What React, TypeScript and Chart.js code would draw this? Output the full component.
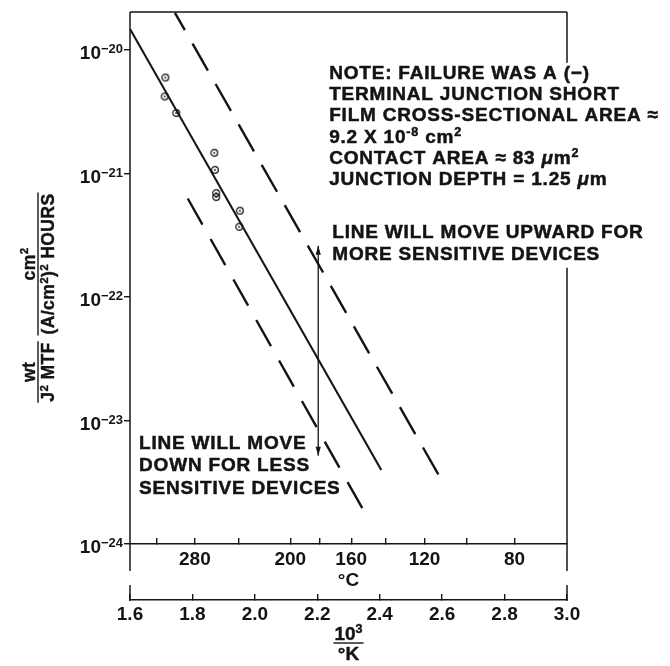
import React, { useEffect, useRef } from 'react';
import { Chart, registerables } from 'chart.js';

Chart.register(...registerables);

// ---------------- data ----------------
const inverseKelvinTicks = [1.6, 1.8, 2.0, 2.2, 2.4, 2.6, 2.8, 3.0];
const celsiusTicks = [320, 280, 240, 200, 180, 160, 140, 120, 100, 80];
const celsiusLabels = [280, 200, 160, 120, 80];
const decadeExponents = [-24, -23, -22, -21, -20];
const yMin = 1e-24;
const yMax = 2.03e-20;

// measured failures (1000/T, wt/J^2 MTF)
const failureInvK = [1.713, 1.711, 1.748, 1.87, 1.872, 1.876, 1.876, 1.952, 1.95];
const failureValue = [5.98e-21, 4.2e-21, 3.09e-21, 1.47e-21, 1.07e-21, 6.93e-22, 6.44e-22, 4.99e-22, 3.7e-22];

// fitted line and bounds
const fitInvK = [1.6, 2.405];
const fitValue = [1.48e-20, 3.96e-24];
const upperInvK = [1.744, 2.59];
const upperValue = [2.0e-20, 3.57e-24];
const lowerInvK = [1.785, 2.345];
const lowerValue = [6.27e-22, 1.93e-24];
const arrowInvK = [2.203, 2.203];
const arrowValue = [2.6e-22, 5.18e-24];

// annotation text
const noteLines = [
  'NOTE: FAILURE WAS A (\u2212)',
  'TERMINAL JUNCTION SHORT',
  'FILM CROSS-SECTIONAL AREA \u2248',
  '9.2 X 10^{-8} cm^{2}',
  'CONTACT AREA \u2248 83 ~{\u03bc}m^{2}',
  'JUNCTION DEPTH = 1.25 ~{\u03bc}m',
];
const upLines = ['LINE WILL MOVE UPWARD FOR', 'MORE SENSITIVE DEVICES'];
const downLines = ['LINE WILL MOVE', 'DOWN FOR LESS', 'SENSITIVE DEVICES'];
const yTitleLeft = { num: 'wt', den: 'J^{2} MTF' };
const yTitleRight = { num: 'cm^{2}', den: '(A/cm^{2})^{2} HOURS' };
const xTitle = { num: '10^{3}', den: '\u00b0K' };
const celsiusTitle = '\u00b0C';

// annotation anchors (data coordinates)
const noteAnchor = { x: 2.238, y: 6.65e-21 };
const upAnchor = { x: 2.248, y: 3.4e-22 };
const downAnchor = { x: 1.629, y: 6.68e-24 };
const rightBorderGap = [7.87e-21, 1.72e-22];

// ---------------- drawing helpers ----------------
const FONT = '"Liberation Sans", Arial, Helvetica, sans-serif';
const INK = '#141414';

type Part = { t: string; sup: boolean; it: boolean };

function parseRich(text: string): Part[] {
  const parts: Part[] = [];
  const re = /(\^|~)\{([^}]*)\}/g;
  let last = 0;
  let m: RegExpExecArray | null;
  while ((m = re.exec(text))) {
    if (m.index > last) parts.push({ t: text.slice(last, m.index), sup: false, it: false });
    parts.push({ t: m[2], sup: m[1] === '^', it: m[1] === '~' });
    last = re.lastIndex;
  }
  if (last < text.length) parts.push({ t: text.slice(last), sup: false, it: false });
  return parts;
}

function setFont(ctx: CanvasRenderingContext2D, size: number, italic = false) {
  ctx.font = `${italic ? 'italic ' : ''}bold ${size}px ${FONT}`;
}

function richWidth(ctx: CanvasRenderingContext2D, text: string, size: number) {
  let w = 0;
  for (const p of parseRich(text)) {
    setFont(ctx, p.sup ? size * 0.66 : size, p.it);
    w += ctx.measureText(p.t).width;
  }
  return w;
}

function drawRich(ctx: CanvasRenderingContext2D, text: string, x: number, baseline: number, size: number, heavy = 0) {
  let cx = x;
  for (const p of parseRich(text)) {
    const fs = p.sup ? size * 0.66 : size;
    setFont(ctx, fs, p.it);
    const yy = baseline - (p.sup ? size * 0.36 : 0);
    ctx.fillText(p.t, cx, yy);
    if (heavy > 0) {
      ctx.lineWidth = heavy;
      ctx.strokeText(p.t, cx, yy);
    }
    cx += ctx.measureText(p.t).width;
  }
  return cx - x;
}

function seg(ctx: CanvasRenderingContext2D, x1: number, y1: number, x2: number, y2: number) {
  ctx.beginPath();
  ctx.moveTo(x1, y1);
  ctx.lineTo(x2, y2);
  ctx.stroke();
}

const framePlugin = {
  id: 'frameAndText',
  afterDraw(chart: any) {
    const { ctx, chartArea: a, scales } = chart;
    const ys = scales.y;
    const xc = scales.xc;
    const xk = scales.x;
    ctx.save();
    ctx.strokeStyle = INK;
    ctx.fillStyle = INK;
    ctx.lineWidth = 1.5;

    // frame
    seg(ctx, a.left, a.top, a.right, a.top);
    seg(ctx, a.left, a.top, a.left, xc.top + 27);
    seg(ctx, a.left, xk.top - 15, a.left, xk.top + 0.75);
    const g0 = ys.getPixelForValue(rightBorderGap[0]);
    const g1 = ys.getPixelForValue(rightBorderGap[1]);
    seg(ctx, a.right, a.top, a.right, g0);
    seg(ctx, a.right, g1, a.right, xc.top + 27);
    seg(ctx, a.right, xk.top - 15, a.right, xk.top + 0.75);

    // y tick labels 10^n
    ctx.textAlign = 'left';
    ctx.textBaseline = 'alphabetic';
    for (const e of decadeExponents) {
      const py = ys.getPixelForValue(Math.pow(10, e));
      const expStr = '\u2212' + String(Math.abs(e));
      setFont(ctx, 13);
      const we = ctx.measureText(expStr).width;
      setFont(ctx, 19);
      const wb = ctx.measureText('10').width;
      const right = a.left - 7;
      const base = py + 9.5;
      ctx.fillText('10', right - we - wb, base);
      setFont(ctx, 13);
      ctx.fillText(expStr, right - we, base - 6.3);
    }

    // arrowheads
    const meta = chart.getDatasetMeta(4);
    if (meta && meta.data.length === 2) {
      const p0 = meta.data[0];
      const p1 = meta.data[1];
      ctx.beginPath();
      ctx.moveTo(p0.x, p0.y);
      ctx.lineTo(p0.x - 2.6, p0.y + 9);
      ctx.lineTo(p0.x + 2.6, p0.y + 9);
      ctx.closePath();
      ctx.fill();
      ctx.beginPath();
      ctx.moveTo(p1.x, p1.y);
      ctx.lineTo(p1.x - 2.6, p1.y - 9);
      ctx.lineTo(p1.x + 2.6, p1.y - 9);
      ctx.closePath();
      ctx.fill();
    }

    // annotation blocks
    (ctx as any).letterSpacing = '0.8px';
    const size = 19;
    const block = (lines: string[], anchor: { x: number; y: number }, spacing: number) => {
      const x0 = xk.getPixelForValue(anchor.x);
      const y0 = ys.getPixelForValue(anchor.y);
      lines.forEach((ln, i) => {
        drawRich(ctx, ln, x0, y0 + i * spacing + size * 0.358, size, 0.5);
      });
    };
    block(noteLines, noteAnchor, 21.3);
    block(upLines, upAnchor, 21.5);
    block(downLines, downAnchor, 22.4);

    // vertical y-axis title (two fractions)
    (ctx as any).letterSpacing = '0.4px';
    const tSize = 17.5;
    const fracV = (num: string, den: string, cx: number, cy: number) => {
      ctx.save();
      ctx.translate(cx, cy);
      ctx.rotate(-Math.PI / 2);
      const wn = richWidth(ctx, num, tSize);
      const wd = richWidth(ctx, den, tSize);
      const half = Math.max(wn, wd) / 2 + 1;
      drawRich(ctx, num, -wn / 2, -3.5, tSize, 0.4);
      ctx.lineWidth = 1.4;
      seg(ctx, -half, 0, half, 0);
      drawRich(ctx, den, -wd / 2, 3.5 + tSize * 0.72, tSize, 0.4);
      ctx.restore();
    };
    fracV(yTitleRight.num, yTitleRight.den, 38, 264);
    fracV(yTitleLeft.num, yTitleLeft.den, 38, 372);

    // x-axis title 10^3 / °K
    (ctx as any).letterSpacing = '0px';
    const mx = (a.left + a.right) / 2;
    const by = xk.top + 43;
    const wn = richWidth(ctx, xTitle.num, 19);
    const wd = richWidth(ctx, xTitle.den, 19);
    drawRich(ctx, xTitle.num, mx - wn / 2, by - 3, 19, 0.4);
    ctx.lineWidth = 1.4;
    seg(ctx, mx - Math.max(wn, wd) / 2 - 1, by, mx + Math.max(wn, wd) / 2 + 1, by);
    drawRich(ctx, xTitle.den, mx - wd / 2, by + 17, 19, 0.4);

    ctx.restore();
  },
};

function makeRing(): HTMLCanvasElement {
  const c = document.createElement('canvas');
  c.width = 10;
  c.height = 10;
  const g = c.getContext('2d')!;
  g.strokeStyle = INK;
  g.lineWidth = 1.2;
  g.beginPath();
  g.arc(5, 5, 3.4, 0, Math.PI * 2);
  g.stroke();
  g.fillStyle = INK;
  g.beginPath();
  g.arc(5, 5, 0.9, 0, Math.PI * 2);
  g.fill();
  return c;
}

const pts = (xs: number[], ys: number[]) => xs.map((x, i) => ({ x, y: ys[i] }));

export default function App() {
  const ref = useRef<HTMLCanvasElement>(null);

  useEffect(() => {
    if (!ref.current) return;
    const tickFont = { family: FONT, size: 19, weight: 'bold' as const };
    const ring = makeRing();
    const chart = new Chart(ref.current, {
      type: 'scatter',
      data: {
        datasets: [
          {
            label: 'failures',
            data: pts(failureInvK, failureValue),
            pointStyle: ring as any,
            pointRadius: 4,
            showLine: false,
          },
          {
            label: 'fit',
            data: pts(fitInvK, fitValue),
            showLine: true,
            borderColor: INK,
            borderWidth: 2.1,
            pointRadius: 0,
          },
          {
            label: 'upper',
            data: pts(upperInvK, upperValue),
            showLine: true,
            borderColor: INK,
            borderWidth: 2.4,
            borderDash: [31, 15.5],
            borderDashOffset: 11,
            pointRadius: 0,
          },
          {
            label: 'lower',
            data: pts(lowerInvK, lowerValue),
            showLine: true,
            borderColor: INK,
            borderWidth: 2.4,
            borderDash: [30, 16.5],
            pointRadius: 0,
          },
          {
            label: 'shift',
            data: pts(arrowInvK, arrowValue),
            showLine: true,
            borderColor: INK,
            borderWidth: 1.3,
            pointRadius: 0,
          },
        ] as any,
      },
      options: {
        responsive: false,
        animation: false,
        devicePixelRatio: 1,
        events: [],
        layout: { padding: { left: 124, right: 103, top: 12, bottom: 30 } },
        plugins: { legend: { display: false }, tooltip: { enabled: false } },
        scales: {
          y: {
            type: 'logarithmic',
            position: 'left',
            min: yMin,
            max: yMax,
            afterBuildTicks: (s: any) => {
              s.ticks = decadeExponents.map((e) => ({ value: Math.pow(10, e) }));
            },
            ticks: { display: false },
            grid: { display: true, drawOnChartArea: false, drawTicks: true, tickLength: 6, color: INK, lineWidth: 1.4 },
            border: { display: false },
          },
          xc: {
            type: 'linear',
            axis: 'x',
            position: 'bottom',
            weight: 0,
            min: 1.6,
            max: 3.0,
            afterBuildTicks: (s: any) => {
              s.ticks = celsiusTicks.map((c) => ({ value: 1000 / (c + 273.15) }));
            },
            ticks: {
              autoSkip: false,
              maxRotation: 0,
              minRotation: 0,
              padding: 10,
              color: INK,
              font: tickFont,
              callback: (_v: any, i: number) => {
                const c = celsiusTicks[i];
                return celsiusLabels.includes(c) ? String(c) : '';
              },
            },
            grid: { drawOnChartArea: false, drawTicks: true, tickLength: -6, color: INK, lineWidth: 1.4 },
            border: { display: true, color: INK, width: 1.5 },
            title: { display: true, text: celsiusTitle, color: INK, font: tickFont, padding: { top: -11, bottom: 7.5 } },
          },
          x: {
            type: 'linear',
            position: 'bottom',
            weight: 1,
            min: 1.6,
            max: 3.0,
            afterBuildTicks: (s: any) => {
              s.ticks = inverseKelvinTicks.map((v) => ({ value: v }));
            },
            ticks: {
              autoSkip: false,
              maxRotation: 0,
              minRotation: 0,
              padding: 9.6,
              color: INK,
              font: tickFont,
              callback: (v: any) => Number(v).toFixed(1),
            },
            grid: { drawOnChartArea: false, drawTicks: true, tickLength: -6, color: INK, lineWidth: 1.4 },
            border: { display: true, color: INK, width: 1.5 },
          },
        } as any,
      },
      plugins: [framePlugin],
    });
    return () => chart.destroy();
  }, []);

  return (
    <div style={{ position: 'absolute', left: 0, top: 0, width: 670, height: 666, background: '#fff' }}>
      <canvas ref={ref} width={670} height={666} style={{ display: 'block', width: 670, height: 666 }} />
    </div>
  );
}
